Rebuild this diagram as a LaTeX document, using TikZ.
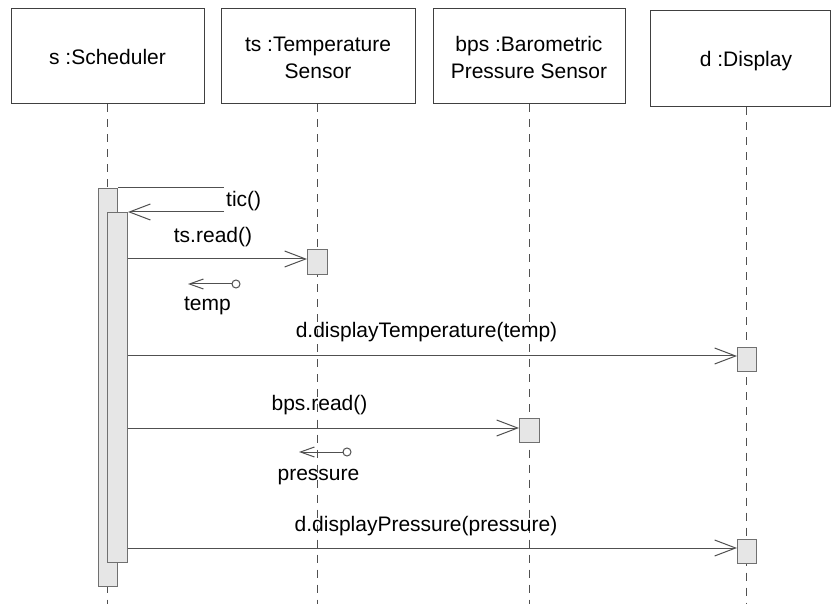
\documentclass[tikz,border=0pt]{standalone}
\usepackage{fontspec}
\setmainfont{Liberation Sans}
\usetikzlibrary{arrows.meta}
\definecolor{boxline}{HTML}{404040}
\definecolor{lifecol}{HTML}{505050}
\definecolor{msgline}{HTML}{505050}
\definecolor{actfill}{HTML}{E6E6E6}
\definecolor{actline}{HTML}{707070}
\begin{document}
\begin{tikzpicture}[x=1pt,y=-1pt,
  font=\fontsize{21}{26}\selectfont,
  objbox/.style={draw=boxline, line width=1pt, fill=white, inner sep=0pt},
  lbl/.style={anchor=base, inner sep=0pt, text=black},
  lifeline/.style={draw=lifecol, line width=1pt, dash pattern=on 8pt off 7pt},
  actbox/.style={draw=actline, fill=actfill, line width=1pt, inner sep=0pt, anchor=north west},
  plainmsg/.style={draw=msgline, line width=1pt},
  msg/.style={draw=msgline, line width=1pt, -{Straight Barb[length=21pt,width=16pt]}},
  retmsg/.style={draw=msgline, line width=1pt, -{Straight Barb[length=14pt,width=10pt]}},
  retdot/.style={circle, draw=msgline, fill=white, line width=1pt, minimum size=8pt, inner sep=0pt}]
\useasboundingbox (0,0) rectangle (831,604);
\fill[white] (0,0) rectangle (831,604);

% object boxes
\node[objbox, minimum width=193pt, minimum height=95pt] (s) at (107.5,56.5) {};
\node[objbox, minimum width=194pt, minimum height=95pt] (ts) at (318,56.5) {};
\node[objbox, minimum width=192pt, minimum height=95pt] (bps) at (529,56.5) {};
\node[objbox, minimum width=180pt, minimum height=96pt] (d) at (740,59) {};

\node[lbl] (sl) at (107.5,65) {s :Scheduler};
\node[lbl] (tsl1) at (318,51.5) {ts :Temperature};
\node[lbl] (tsl2) at (318,79) {Sensor};
\node[lbl] (bpsl1) at (529,51.5) {bps :Barometric};
\node[lbl] (bpsl2) at (529,79) {Pressure Sensor};
\node[lbl] (dl) at (746,67) {d :Display};

% lifeline ends
\coordinate (sEnd) at (107.5,604);
\coordinate (tsEnd) at (317.5,604);
\coordinate (bpsEnd) at (529.5,604);
\coordinate (dEnd) at (746.5,604);
\draw[lifeline] (s.south -| sEnd) -- (sEnd);
\draw[lifeline] (ts.south -| tsEnd) -- (tsEnd);
\draw[lifeline] (bps.south -| bpsEnd) -- (bpsEnd);
\draw[lifeline] (d.south -| dEnd) -- (dEnd);

% activations
\node[actbox, minimum width=19pt, minimum height=398pt] (sa1) at (98,188) {};
\node[actbox, minimum width=20pt, minimum height=350pt] (sa2) at (107,212) {};
\node[actbox, minimum width=20pt, minimum height=25pt] (ta1) at (307,249) {};
\node[actbox, minimum width=19pt, minimum height=24pt] (da1) at (737,347) {};
\node[actbox, minimum width=20pt, minimum height=24pt] (ba1) at (519,418) {};
\node[actbox, minimum width=19pt, minimum height=24pt] (da2) at (737,539) {};

% message levels
\coordinate (tic1) at (224,188);
\coordinate (tic2) at (224,212);
\coordinate (y1) at (0,259);
\coordinate (y2) at (0,356);
\coordinate (y3) at (0,428);
\coordinate (y4) at (0,548);

% tic()
\draw[plainmsg] (sa1.north east) -- (tic1);
\draw[msg] (tic2) -- (sa2.north east);
\node[lbl, anchor=base west] (ticl) at (226,207) {tic()};

% ts.read()
\draw[msg] (sa2.east |- y1) -- (ta1.west |- y1);
\node[lbl] (m1l) at (213,243) {ts.read()};

% temp return
\node[retdot] (tdot) at (236,284) {};
\coordinate (ttip) at (188,284);
\draw[retmsg] (tdot) -- (ttip);
\node[lbl] (templ) at (207.5,311) {temp};

% d.displayTemperature(temp)
\draw[msg] (sa2.east |- y2) -- (da1.west |- y2);
\node[lbl] (m2l) at (426.5,338) {d.displayTemperature(temp)};

% bps.read()
\draw[msg] (sa2.east |- y3) -- (ba1.west |- y3);
\node[lbl] (m3l) at (319.5,410) {bps.read()};

% pressure return
\node[retdot] (pdot) at (347,452) {};
\coordinate (ptip) at (299,452);
\draw[retmsg] (pdot) -- (ptip);
\node[lbl] (pressl) at (318.5,480) {pressure};

% d.displayPressure(pressure)
\draw[msg] (sa2.east |- y4) -- (da2.west |- y4);
\node[lbl] (m4l) at (426,531) {d.displayPressure(pressure)};
\end{tikzpicture}
\end{document}
